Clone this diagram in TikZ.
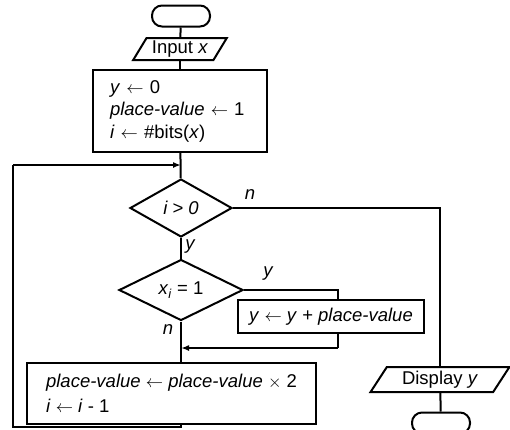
\documentclass[tikz,border=0pt]{standalone}
\usepackage{fontspec}
\setmainfont{Liberation Sans}
\usetikzlibrary{shapes.geometric,arrows.meta}
\begin{document}
\begin{tikzpicture}[x=1pt,y=-1pt,
  every node/.style={font=\fontsize{18.5}{23}\selectfont},
  line/.style={line width=2pt},
  arr/.style={line width=2pt,-{Latex[length=8pt,width=6pt]}},
  term/.style={draw,line width=2pt,rectangle,rounded corners=10pt,minimum width=58pt,minimum height=21pt,inner sep=0pt},
  io/.style={draw,line width=2pt,trapezium,trapezium left angle=56,trapezium right angle=124,trapezium stretches=true,inner sep=0pt},
  proc/.style={draw,line width=2pt,rectangle,fill=white,inner ysep=0pt},
  dec/.style={draw,line width=2pt,diamond,inner sep=0pt},
  lbl/.style={font=\fontsize{18.5}{20}\selectfont\itshape,inner sep=0pt}
]
\useasboundingbox (0,0) rectangle (510,429);

\node[term] (start) at (181,16) {};
\node[io,minimum width=94pt,minimum height=22pt] (input) at (180,49) {Input \textit{x}};
\node[proc,minimum width=174pt,minimum height=82pt,text width=140pt,inner xsep=17pt,align=left,
  font=\fontsize{18.5}{22.5}\selectfont] (init) at (180,111)
  {\textit{y} $\leftarrow$ 0\\\textit{place-value} $\leftarrow$ 1\\\textit{i} $\leftarrow$ \#bits(\textit{x})};
\node[dec,minimum width=102pt,minimum height=58pt] (d1) at (181,208) {\textit{i > 0}};
\node[dec,minimum width=124pt,minimum height=57pt] (d2) at (181,290) {\textit{x}\textsubscript{\textit{i}} = 1};
\coordinate (jn) at (181,165);
\coordinate (r1) at (440,208);
\coordinate (r2) at (338,290);
\coordinate (r3) at (338,348);
\coordinate (m3) at (181,348);
\coordinate (b1) at (181,427);
\coordinate (b2) at (13,427);
\coordinate (b3) at (13,165);
\draw[line] (d2.east) -- (r2) -- (r3);
\node[proc,minimum width=186pt,minimum height=33pt] (add) at (331,316.5) {\textit{y} $\leftarrow$ \textit{y} + \textit{place-value}};
\node[proc,minimum width=289pt,minimum height=61pt,align=left,
  font=\fontsize{18.5}{25}\selectfont] (upd) at (171.5,393)
  {\textit{place-value} $\leftarrow$ \textit{place-value} $\times$ 2\\\textit{i} $\leftarrow$ \textit{i} - 1};
\node[io,minimum width=140pt,minimum height=25pt] (disp) at (440,379.5) {Display \textit{y}};
\node[term] (stop) at (441,423) {};

\draw[line] (start) -- (input);
\draw[line] (input) -- (init);
\draw[line] (init) -- (d1);
\draw[line] (d1.south) -- (d2.north);
\draw[line] (d2.south) -- (d2.south |- upd.north);
\draw[line] (d1.east) -- (r1) -- (disp.north -| r1);
\draw[line] (disp) -- (stop);
\draw[arr] (r3) -- (m3);
\draw[line] (upd.south -| b1) -- (b1) -- (b2) -- (b3);
\draw[arr] (b3) -- (jn);

\node[lbl] (ln1) at (250,195) {n};
\node[lbl] (ly1) at (190,247) {y};
\node[lbl] (ly2) at (268,274) {y};
\node[lbl] (ln2) at (168,330) {n};
\end{tikzpicture}
\end{document}
